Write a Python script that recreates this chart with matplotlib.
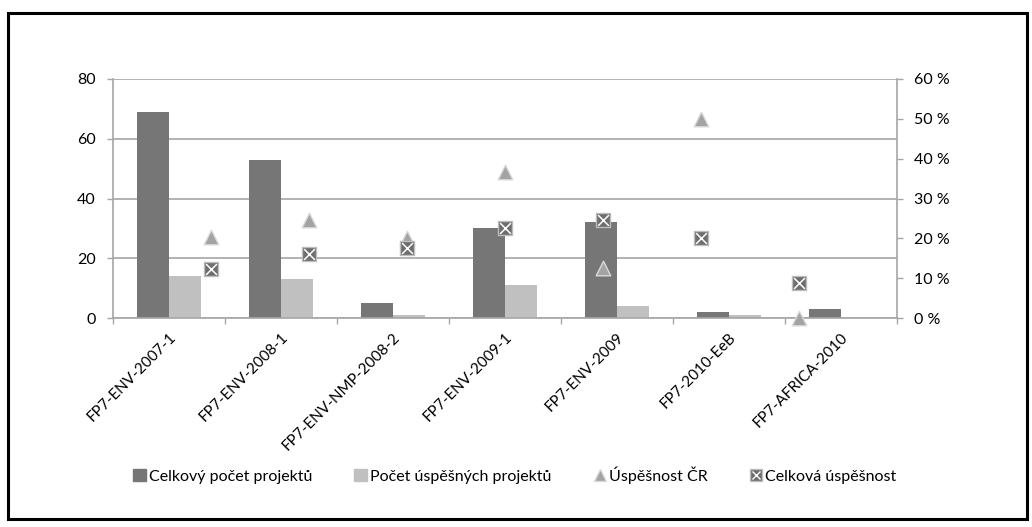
import matplotlib.pyplot as plt
import numpy as np
from matplotlib.lines import Line2D
from matplotlib.patches import Rectangle

plt.rcParams['font.family'] = ['Lato', 'DejaVu Sans']

# Data
kategorie = ['FP7-ENV-2007-1', 'FP7-ENV-2008-1', 'FP7-ENV-NMP-2008-2', 'FP7-ENV-2009-1',
             'FP7-ENV-2009', 'FP7-2010-EeB', 'FP7-AFRICA-2010']
celkovy_pocet = [69, 53, 5, 30, 32, 2, 3]
pocet_uspesnych = [14, 13, 1, 11, 4, 1, 0]
uspesnost_cr = [20.3, 24.5, 20.0, 36.7, 12.5, 50.0, 0.0]
celkova_uspesnost = [12.3, 16.1, 17.5, 22.7, 24.5, 20.0, 8.7]

fig = plt.figure(figsize=(10.32, 5.27), dpi=100)
ax = fig.add_axes([113/1032, 1-318/527, 784/1032, 239/527])

x = np.arange(len(kategorie))
w = 0.282
ax.bar(x - w/2, celkovy_pocet, w, color='#767676', zorder=2)
ax.bar(x + w/2, pocet_uspesnych, w, color='#c0c0c0', zorder=2)

ax.set_xlim(-0.5, len(kategorie) - 0.5)
ax.set_ylim(0, 80)
ax.set_yticks([0, 20, 40, 60, 80])
ax.grid(axis='y', color='#a6a6a6', linewidth=1.2, zorder=0)
ax.set_axisbelow(True)
ax.set_xticks(x)
ax.set_xticklabels(kategorie, rotation=45, ha='right', va='top', rotation_mode='anchor', fontsize=11)
ax.tick_params(axis='x', length=0, pad=9)
ax.set_xticks(np.arange(len(kategorie) + 1) - 0.5, minor=True)
ax.tick_params(axis='x', which='minor', length=4.5, color='#a6a6a6', width=1)
ax.tick_params(axis='y', length=4.5, color='#a6a6a6', width=1, labelsize=11.5, pad=8)
for s in ['top', 'right']:
    ax.spines[s].set_visible(False)
for s in ['left', 'bottom']:
    ax.spines[s].set_color('#a6a6a6')
    ax.spines[s].set_linewidth(1.2)

# Sekundarni osa (procenta), body posunute jako v Excelu
ax2 = ax.twinx()
ax2.set_ylim(0, 60)
ax2.set_yticks(np.arange(0, 61, 10))
ax2.set_yticklabels([f'{v} %' for v in range(0, 61, 10)])
ax2.tick_params(axis='y', length=4.5, color='#a6a6a6', width=1, labelsize=11.5, pad=8)
for s in ['top', 'left', 'bottom']:
    ax2.spines[s].set_visible(False)
ax2.spines['right'].set_color('#a6a6a6')
ax2.spines['right'].set_linewidth(1.2)
xs = -0.5 + len(kategorie) * (x + 1) / (len(kategorie) + 1)
ax2.scatter(xs, uspesnost_cr, marker='^', s=110, color='#a3a3a3', edgecolors='#d9d9d9',
            linewidths=1, zorder=3, clip_on=False)
ax2.scatter(xs, celkova_uspesnost, marker='s', s=95, color='#6e6e6e', edgecolors='#bdbdbd',
            linewidths=1, zorder=4, clip_on=False)
ax2.scatter(xs, celkova_uspesnost, marker='x', s=60, color='white', linewidths=1.1,
            zorder=5, clip_on=False)

# Legenda
h1 = Rectangle((0, 0), 1, 1, color='#767676')
h2 = Rectangle((0, 0), 1, 1, color='#c0c0c0')
h3 = Line2D([], [], marker='^', linestyle='none', markersize=8, color='#a3a3a3', markeredgecolor='#d9d9d9')
h4a = Line2D([], [], marker='s', linestyle='none', markersize=8, color='#6e6e6e', markeredgecolor='#bdbdbd')
h4b = Line2D([], [], marker='x', linestyle='none', markersize=6, color='white', markeredgewidth=1)
fig.legend([h1, h2, h3, (h4a, h4b)],
           ['Celkový počet projektů', 'Počet úspěšných projektů', 'Úspěšnost ČR', 'Celková úspěšnost'],
           loc='center', bbox_to_anchor=(515/1032, 1-475/527), ncol=4, frameon=False,
           fontsize=11.5, handlelength=0.8, handleheight=0.8, handletextpad=0.2, columnspacing=2.6)

# Ramecek
fig.patches.append(Rectangle((8/1032, 1-519/527), 1019/1032, 506/527, transform=fig.transFigure,
                             fill=False, edgecolor='black', linewidth=2.2))

fig.savefig('out.png', dpi=100)
